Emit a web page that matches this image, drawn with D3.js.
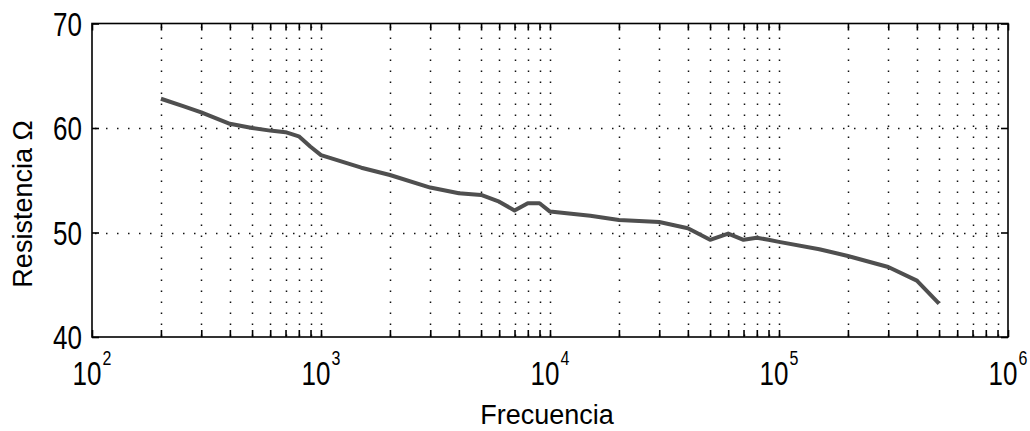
<!DOCTYPE html>
<html>
<head>
	<meta charset="utf-8">
	<title>Resistencia vs Frecuencia</title>
	<script src="https://cdn.jsdelivr.net/npm/d3@7/dist/d3.min.js"></script>
	<style>
		body { margin: 0; background: #fff; }
		svg text { font-family: "Liberation Sans", Arial, sans-serif; fill: #000; }
	</style>
</head>
<body>
	<script>
		// Data
		var frecuencia = [200, 250, 300, 400, 500, 600, 700, 800, 900, 1000,
			1500, 2000, 3000, 4000, 5000, 6000, 7000, 8000, 9000, 10000,
			15000, 20000, 30000, 40000, 50000, 60000, 70000, 80000, 90000, 100000,
			150000, 200000, 300000, 400000, 500000];
		var resistencia = [62.8, 62.1, 61.5, 60.4, 60.0, 59.75, 59.6, 59.2, 58.2, 57.4,
			56.2, 55.5, 54.3, 53.75, 53.6, 52.95, 52.1, 52.8, 52.8, 52.0,
			51.6, 51.2, 51.0, 50.4, 49.3, 49.9, 49.3, 49.5, 49.3, 49.1,
			48.4, 47.75, 46.7, 45.4, 43.2];
		var yTicks = [40, 50, 60, 70];
		var xDecades = [2, 3, 4, 5, 6]; // exponents for 10^n labels

		var svgW = 1030, svgH = 431;
		// plot box (note: "top" is reserved on window, so use these names)
		var plotL = 92, plotR = 1008, plotT = 23.5, plotB = 337;

		var svg = d3.select("body").append("svg")
			.attr("width", svgW)
			.attr("height", svgH);

		var x = d3.scaleLog().domain([1e2, 1e6]).range([plotL, plotR]);
		var y = d3.scaleLinear().domain([40, 70]).range([plotB, plotT]);

		// every 1..9 x 10^n between 100 and 1e6
		var xTicks = [];
		for (var e = 2; e < 6; e++) {
			for (var m = 1; m < 10; m++) xTicks.push(m * Math.pow(10, e));
		}
		xTicks.push(1e6);

		// dotted grid
		var grid = svg.append("g")
			.attr("stroke", "#111")
			.attr("stroke-width", 1.5)
			.attr("stroke-dasharray", "1.5,9.5");
		grid.selectAll("line.v")
			.data(xTicks.filter(function(d) { return d > 100 && d < 1e6; }))
			.enter().append("line")
			.attr("class", "v")
			.attr("x1", function(d) { return Math.round(x(d)) + 0.5; })
			.attr("x2", function(d) { return Math.round(x(d)) + 0.5; })
			.attr("y1", plotT + 3)
			.attr("y2", plotB);
		grid.selectAll("line.h")
			.data([50, 60])
			.enter().append("line")
			.attr("class", "h")
			.attr("x1", plotL + 3)
			.attr("x2", plotR)
			.attr("y1", function(d) { return Math.round(y(d)) + 0.5; })
			.attr("y2", function(d) { return Math.round(y(d)) + 0.5; });

		// axes with inward ticks
		function styleAxis(g) {
			g.selectAll("path.domain").remove();
			g.selectAll("line").attr("stroke", "#000").attr("stroke-width", 1.6);
		}
		svg.append("g").attr("transform", "translate(0," + plotB + ")")
			.call(d3.axisBottom(x).tickValues(xTicks).tickSize(-7).tickFormat(""))
			.call(styleAxis);
		svg.append("g").attr("transform", "translate(0," + plotT + ")")
			.call(d3.axisTop(x).tickValues(xTicks).tickSize(-7).tickFormat(""))
			.call(styleAxis);
		svg.append("g").attr("transform", "translate(" + plotL + ",0)")
			.call(d3.axisLeft(y).tickValues(yTicks).tickSize(-7).tickFormat(""))
			.call(styleAxis);
		svg.append("g").attr("transform", "translate(" + plotR + ",0)")
			.call(d3.axisRight(y).tickValues(yTicks).tickSize(-7).tickFormat(""))
			.call(styleAxis);

		// frame
		svg.append("rect")
			.attr("x", plotL).attr("y", plotT)
			.attr("width", plotR - plotL).attr("height", plotB - plotT)
			.attr("fill", "none")
			.attr("stroke", "#000")
			.attr("stroke-width", 1.6);

		// curve
		var line = d3.line()
			.x(function(d, i) { return x(frecuencia[i]); })
			.y(function(d) { return y(d); });
		svg.append("path")
			.datum(resistencia)
			.attr("d", line)
			.attr("fill", "none")
			.attr("stroke", "#4f4f4f")
			.attr("stroke-width", 4)
			.attr("stroke-linejoin", "round");

		// y tick labels (narrow-looking font via vertical stretch)
		svg.selectAll("g.ylab")
			.data(yTicks)
			.enter().append("g")
			.attr("class", "ylab")
			.attr("transform", function(d) { return "translate(82," + (y(d) + 12) + ") scale(1,1.3)"; })
			.append("text")
			.attr("text-anchor", "end")
			.attr("font-size", 26)
			.text(function(d) { return d; });

		// x tick labels 10^n
		var xl = svg.selectAll("g.xlab")
			.data(xDecades)
			.enter().append("g")
			.attr("class", "xlab")
			.attr("transform", function(d) { return "translate(" + x(Math.pow(10, d)) + ",385) scale(1,1.3)"; })
			.append("text")
			.attr("text-anchor", "middle")
			.attr("font-size", 26);
		xl.append("tspan").text("10");
		xl.append("tspan")
			.attr("font-size", 16)
			.attr("dy", -15.4)
			.attr("dx", 1)
			.text(function(d) { return d; });

		// axis titles
		svg.append("text")
			.attr("x", 547)
			.attr("y", 424)
			.attr("text-anchor", "middle")
			.attr("font-size", 27)
			.text("Frecuencia");
		svg.append("text")
			.attr("transform", "translate(32,204) rotate(-90)")
			.attr("text-anchor", "middle")
			.attr("font-size", 27)
			.text("Resistencia \u03A9");
	</script>
</body>
</html>
